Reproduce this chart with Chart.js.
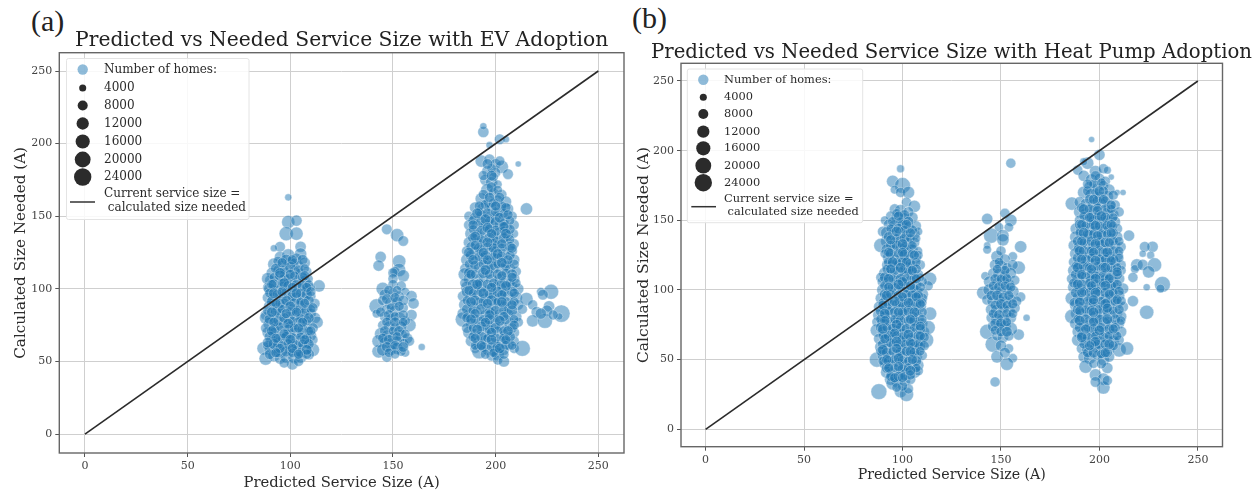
<!DOCTYPE html>
<html>
<head>
<meta charset="utf-8">
<title>Predicted vs Needed Service Size</title>
<script src="https://cdn.jsdelivr.net/npm/chart.js@4"></script>
<style>
  body { margin: 0; background: #fff; width: 1257px; height: 492px; overflow: hidden; position: relative; }
  canvas { position: absolute; top: 0; filter: blur(0.45px); }
  .tag { position: absolute; font: 30px/1 "Liberation Serif", serif; color: #222; }
</style>
</head>
<body>
<div class="tag" style="left:31px;top:6px">(a)</div>
<div class="tag" style="left:632px;top:3px">(b)</div>
<canvas id="evChart" width="630" height="492" style="left:0"></canvas>
<canvas id="hpChart" width="643" height="492" style="left:630px"></canvas>
<script>
// tick labels and legend
const tickValues = [0, 50, 100, 150, 200, 250];
const legendHomes = [4000, 8000, 12000, 16000, 20000, 24000];
const diagonal = [0, 250];

// each point: [predicted size (A), needed size (A), homes in thousands]
const evAt100 = [
  [99,163,4],[99,146,14],[103,147,10],[98,138,16],[103,138,14],[95,129,9],[92,128,4],[105,129,10],[105,124,12],
  [95,122,10],[99,123,14],[103,121,9],
  [92,117,12],[96,116,9],[100,118,12],[104,116,8],[107,118,10],
  [91,111,10],[94,113,8],[98,110,14],[102,112,10],[105,110,12],[108,112,8],
  [90,106,8],[93,105,12],[97,107,9],[100,104,12],[103,106,9],[107,105,12],[109,107,6],
  [89,107,12],[89,101,8],[114,102,12],
  [90,100,12],[94,99,9],[97,101,12],[101,98,10],[104,100,14],[108,99,9],[110,101,6],
  [89,94,9],[92,93,14],[96,95,8],[99,92,12],[103,94,10],[106,93,12],[110,95,8],
  [90,88,12],[94,87,10],[97,89,14],[101,86,9],[105,88,12],[108,87,10],[112,90,8],
  [88,82,9],[92,81,12],[95,83,9],[99,80,14],[102,82,10],[106,81,12],[110,83,9],
  [88,80,12],[112,80,10],[113,77,12],
  [90,76,14],[93,75,9],[97,77,12],[100,74,10],[104,76,14],[108,75,10],[111,73,9],
  [89,70,10],[92,69,12],[96,71,9],[99,68,14],[103,70,9],[106,69,12],[110,68,10],
  [91,64,12],[94,63,10],[97,65,14],[101,62,9],[105,64,12],[108,63,9],[111,65,8],
  [87,59,14],[90,58,10],[93,60,12],[96,57,9],[100,59,14],[103,57,10],[107,59,14],[111,58,14],
  [88,52,14],[92,54,12],[95,52,10],[98,53,12],[102,53,14],[105,53,12],[109,55,10],
  [101,48,10],[97,49,8],[104,50,8]
];
const evFill100 = [
  [94,119,8],[98,120,10],[102,118,7],[106,120,9],
  [93,114,9],[97,113,7],[100,115,10],[104,113,8],[107,114,7],
  [92,108,7],[95,109,10],[99,107,8],[102,109,7],[106,108,9],
  [92,103,10],[96,104,7],[99,102,9],[103,103,8],[106,102,10],[109,103,7],
  [90,97,8],[94,96,10],[98,98,7],[101,95,9],[105,97,8],[108,96,10],
  [91,91,10],[95,90,8],[98,92,9],[102,90,10],[105,91,7],[109,92,9],
  [89,85,8],[93,84,10],[96,86,7],[100,84,9],[104,85,10],[107,84,8],[110,86,7],
  [90,79,10],[94,78,8],[97,80,9],[101,78,7],[105,79,10],[108,78,8],
  [88,73,8],[92,72,10],[95,74,7],[99,72,9],[102,73,8],[106,72,10],[109,71,7],
  [90,67,10],[94,66,8],[98,67,9],[101,66,10],[105,67,7],[108,66,9],
  [89,61,8],[92,62,10],[96,61,7],[99,62,9],[103,61,10],[106,62,8],[109,62,9],
  [90,55,9],[94,56,8],[98,57,10],[101,56,7],[105,56,9],[108,55,8]
];
const evGap100 = [
  [96,118,8],[101,120,8],[95,111,9],[100,110,8],[107,109,8],[91,103,8],[97,104,9],[101,101,8],[108,101,8],
  [92,97,9],[96,98,8],[103,97,9],[110,98,8],[93,90,8],[100,88,9],[107,90,8],[111,87,8],[91,84,9],[98,83,8],
  [103,84,8],[109,80,9],[92,77,8],[99,76,9],[106,77,8],[91,71,9],[97,69,8],[104,73,8],[110,71,8],
  [93,66,8],[100,65,9],[107,65,8],[89,63,9],[95,59,8],[101,59,8],[108,58,9],[93,56,8],[104,55,8]
];
const evAt150 = [
  [147,141,9],[152,137,14],[155,133,9],[144,122,10],[143,116,10],[153,119,14],[153,113,14],[151,112,8],
  [155,109,12],[150,111,8],[150,107,8],[150,103,8],[154,102,8],[145,100,14],[156,98,6],[159,95,10],
  [160,90,10],[142,88,18],[142,83,6],[159,82,10],[158,75,14],[164,60,4],[143,57,14],[147,53,8],[156,56,6],
  [146,96,10],[150,97,9],[153,95,8],[145,92,8],[149,90,12],[152,91,9],[147,86,8],[151,85,10],[155,87,8],
  [146,81,9],[149,79,10],[153,80,12],[156,78,8],[145,75,8],[148,74,10],[151,73,9],[154,74,10],
  [144,69,12],[147,68,9],[150,67,10],[154,68,12],[157,66,9],[143,64,14],[146,63,10],[149,62,12],
  [152,64,9],[155,62,10],[158,64,8],[145,58,12],[149,58,9],[152,59,12],[154,57,8]
];
const evFill150 = [
  [148,99,8],[152,99,7],[147,93,9],[151,94,8],[155,92,9],[149,87,7],[153,88,8],[144,84,8],[148,82,9],
  [151,81,7],[155,82,8],[147,77,8],[151,77,9],[155,77,7],[146,71,9],[150,71,7],[153,71,9],[145,66,8],
  [148,65,9],[152,67,8],[156,69,7],[147,60,9],[151,61,8],[155,60,9],[148,56,7],[151,55,7]
];
const evAt200 = [
  [194,208,10],[194,212,4],[202,203,9],[205,203,4],[197,199,4],[211,186,3],
  [193,188,12],[197,189,10],[200,186,9],[203,184,14],[196,181,10],[200,180,8],[206,179,9],
  [195,175,10],[198,173,12],[201,172,6],[196,168,14],[199,166,9],[203,165,8],
  [193,162,12],[197,160,12],[201,161,9],[205,160,10],
  [190,156,10],[194,155,14],[198,156,9],[202,154,12],[206,155,10],[215,155,12],
  [187,150,8],[190,149,10],[193,151,9],[197,149,12],[200,150,10],[204,148,12],[208,150,8],
  [187,144,9],[191,143,12],[195,145,8],[198,143,14],[202,144,9],[205,142,12],[209,144,8],
  [188,138,12],[191,137,9],[195,139,12],[199,136,9],[202,138,14],[206,137,9],[209,138,6],
  [187,132,10],[191,131,12],[194,133,8],[198,131,12],[201,130,9],[205,132,12],[209,131,8],
  [186,126,9],[190,125,12],[193,127,9],[197,124,14],[200,126,9],[204,125,12],[208,126,9],
  [186,120,12],[190,119,8],[194,121,12],[197,118,10],[201,120,14],[205,118,9],[209,120,10],
  [185,114,8],[188,113,12],[192,115,10],[196,112,12],[199,114,9],[203,113,14],[207,114,9],[210,112,8],
  [185,110,14],[187,107,10],[191,106,12],[194,108,9],[198,106,12],[202,107,10],[205,105,12],[209,107,10],
  [186,101,12],[190,100,9],[193,102,12],[197,99,14],[200,101,10],[204,100,12],[208,102,9],[211,100,10],
  [184,95,9],[188,94,12],[191,96,10],[195,93,12],[199,95,9],[202,93,14],[206,95,10],[210,94,12],
  [185,89,12],[189,88,9],[192,90,12],[196,87,10],[200,89,14],[204,88,9],[207,87,12],[211,89,9],
  [184,83,10],[187,82,12],[191,84,9],[195,81,14],[198,83,10],[202,82,12],[206,83,9],[210,81,10],
  [184,79,18],[188,76,10],[192,77,12],[196,75,9],[199,76,12],[203,74,10],[207,76,12],[211,77,8],
  [187,70,12],[190,69,9],[194,71,14],[197,68,10],[201,70,12],[205,68,14],[209,70,9],
  [188,64,10],[192,63,14],[195,65,9],[199,62,12],[203,64,10],[206,62,12],[209,64,8],
  [190,59,8],[192,57,18],[196,58,10],[200,57,12],[204,58,9],[209,59,8],[213,59,20],
  [198,54,9],[201,55,14],[201,51,8],[204,50,10]
];
const evFill200 = [
  [198,183,7],[194,178,8],[199,177,7],[198,170,9],[194,165,8],[201,168,7],
  [195,158,8],[199,159,9],[203,157,8],[192,153,7],[196,152,9],[200,153,8],[204,152,7],
  [189,147,8],[193,146,10],[197,147,7],[200,146,9],[204,145,8],[207,147,7],
  [189,141,7],[193,140,9],[197,141,8],[200,140,10],[204,140,7],[207,141,8],
  [189,135,9],[193,134,7],[197,135,10],[200,133,8],[204,135,9],[207,134,7],
  [188,129,8],[192,128,10],[196,129,7],[199,128,9],[203,128,8],[207,129,9],
  [188,123,10],[192,122,8],[195,123,9],[199,122,7],[203,122,10],[207,123,8],
  [187,117,7],[190,116,9],[194,117,8],[198,116,10],[201,117,7],[205,116,9],[209,117,8],
  [187,111,9],[190,110,7],[194,111,10],[197,110,8],[201,110,9],[205,111,7],[208,110,9],
  [185,104,8],[189,103,10],[192,104,7],[196,103,9],[199,104,8],[203,103,10],[207,104,8],[210,104,7],
  [186,98,10],[189,97,7],[193,98,9],[197,96,8],[201,98,10],[204,97,7],[208,98,9],
  [186,92,7],[190,92,9],[194,91,8],[198,92,10],[201,91,7],[205,91,9],[209,91,8],
  [186,86,9],[189,85,8],[193,86,10],[197,85,7],[200,85,9],[204,85,8],[208,85,10],
  [186,80,8],[190,79,9],[194,79,7],[197,79,10],[201,79,8],[205,79,9],[209,79,7],
  [186,73,9],[189,73,7],[193,74,9],[197,72,8],[200,73,10],[204,71,8],[208,73,9],
  [189,67,8],[193,67,9],[196,66,7],[200,66,9],[204,66,8],[207,67,9],
  [190,61,7],[194,60,9],[198,60,8],[201,60,10],[205,61,8],[208,61,7],
  [195,55,8],[199,56,7],[204,55,8]
];
const evGap200 = [
  [196,186,9],[202,188,8],[198,178,9],[197,163,8],[202,163,8],[192,157,8],[200,157,8],[205,156,8],
  [191,152,9],[195,148,9],[202,149,9],[206,151,8],[189,144,8],[196,142,9],[204,143,8],[190,136,9],
  [198,138,8],[205,138,9],[190,130,8],[196,132,9],[203,131,8],[208,128,8],[187,125,9],[194,125,8],
  [201,124,9],[206,120,8],[189,120,9],[196,120,8],[203,118,9],[188,110,8],[195,113,9],[203,109,8],
  [208,108,8],[191,103,9],[198,101,8],[205,102,9],[187,99,8],[194,97,9],[203,96,8],[209,97,8],
  [188,91,9],[196,90,8],[203,91,9],[208,89,8],[190,83,8],[197,82,9],[204,81,8],[188,79,9],[195,77,8],
  [202,78,9],[209,75,8],[191,72,9],[198,70,8],[206,71,9],[190,66,8],[198,65,9],[205,65,8],[193,61,8],[202,59,9]
];
const evTail = [
  [227,98,18],[222,98,6],[223,96,9],[215,93,14],[218,89,8],[220,84,10],[226,88,10],[225,85,10],
  [232,83,24],[231,81,4],[218,78,12],[224,78,18],[222,83,10],[228,82,8],[213,86,8]
];

const hpAt100 = [
  [99,187,5],[95,178,12],[100,175,20],[96,172,6],[99,170,8],[103,170,12],[102,163,8],[106,160,12],
  [96,158,9],[99,157,12],[103,156,9],[94,153,8],[97,152,10],[101,151,12],[105,152,10],[91,150,6],
  [93,147,9],[96,146,12],[100,147,9],[103,145,10],[107,146,8],[90,142,9],
  [92,141,12],[95,140,9],[99,141,12],[102,139,9],[106,140,10],[108,142,6],
  [92,135,12],[96,134,9],[99,135,10],[103,133,14],[106,134,9],
  [89,132,16],[92,129,10],[95,128,12],[99,130,9],[102,128,12],[105,129,10],[108,128,6],
  [93,123,12],[96,122,9],[100,124,14],[103,122,10],[107,123,8],
  [92,118,8],[95,117,14],[98,118,9],[102,116,12],[105,117,10],[109,118,8],
  [91,112,12],[94,111,9],[98,113,12],[101,110,10],[105,112,12],[108,111,9],
  [89,109,8],[114,108,14],[113,103,8],
  [90,106,10],[93,105,14],[97,107,9],[100,104,12],[104,106,12],[107,104,9],[110,106,8],
  [90,100,12],[93,99,9],[97,101,12],[100,98,14],[104,100,10],[107,99,12],[110,97,12],
  [89,94,10],[92,93,12],[96,95,10],[99,92,12],[103,94,9],[106,93,14],[110,94,9],
  [88,88,9],[91,87,14],[95,89,9],[98,86,12],[102,88,12],[105,87,10],[109,88,12],
  [88,82,12],[91,81,9],[94,83,12],[98,80,10],[101,82,14],[105,81,9],[108,80,12],[114,83,14],
  [87,77,8],[90,76,12],[94,75,9],[97,77,12],[100,74,10],[104,76,12],[107,75,9],[110,76,10],
  [87,71,14],[90,70,10],[93,69,14],[97,71,9],[100,68,12],[104,70,10],[107,69,12],[111,70,9],[113,73,16],
  [88,65,9],[92,64,12],[95,66,10],[99,63,14],[102,65,9],[106,64,12],[109,63,10],[112,64,18],
  [89,59,12],[92,58,9],[96,60,14],[99,57,10],[103,59,12],[106,58,14],[109,59,9],
  [87,50,18],[90,53,10],[93,52,12],[97,54,9],[100,52,12],[104,53,10],[107,52,12],[110,53,8],
  [91,47,10],[94,46,12],[98,48,9],[101,46,12],[105,47,9],[108,46,10],
  [92,41,12],[95,40,14],[99,42,9],[102,40,12],[106,41,12],[108,42,8],
  [94,36,12],[97,34,10],[101,35,12],[104,36,9],[95,33,14],
  [88,27,20],[99,27,12],[102,25,16],[103,29,8],[100,31,8]
];
const hpFill100 = [
  [97,155,7],[101,154,8],[95,149,8],[99,149,7],[103,149,9],
  [94,144,7],[98,144,9],[101,143,7],[105,143,8],
  [93,138,9],[97,137,7],[101,137,9],[104,137,7],[107,137,6],
  [94,132,8],[97,132,9],[101,131,8],[105,132,7],
  [91,126,7],[94,126,9],[98,126,8],[101,125,10],[105,126,7],[108,125,7],
  [93,120,9],[97,120,7],[100,120,9],[104,119,8],[107,120,7],
  [92,115,7],[96,114,9],[100,114,7],[103,114,9],[107,115,8],
  [91,109,9],[95,108,7],[99,108,9],[102,108,8],[106,108,9],[109,109,6],
  [91,103,8],[95,102,9],[99,102,7],[102,102,10],[106,101,7],[109,102,8],
  [91,97,9],[94,97,8],[98,96,9],[102,97,7],[105,96,10],[108,96,8],
  [90,91,7],[93,90,10],[97,90,8],[100,90,9],[104,91,7],[107,90,10],[110,91,7],
  [89,85,10],[93,85,7],[96,84,9],[100,84,8],[103,85,10],[107,84,7],[110,84,8],
  [89,79,8],[92,78,10],[96,79,7],[99,78,9],[103,78,8],[106,78,10],[110,79,7],
  [89,73,9],[92,73,7],[95,72,10],[99,73,8],[102,72,9],[106,73,7],[109,72,9],
  [90,67,7],[93,67,9],[97,67,8],[100,66,10],[104,66,7],[108,67,9],[111,66,8],
  [90,61,9],[94,62,8],[98,61,9],[101,61,7],[105,61,10],[108,61,8],[111,60,8],
  [89,56,8],[92,55,9],[95,56,7],[99,55,10],[102,56,8],[106,55,9],[109,56,7],
  [90,49,7],[93,49,9],[96,50,8],[100,49,9],[103,49,7],[107,49,9],
  [92,44,9],[96,44,7],[100,43,9],[103,44,8],[107,44,7],
  [94,38,8],[98,38,9],[101,38,7],[104,39,8],[97,30,7]
];
const hpGap100 = [
  [98,153,8],[102,147,8],[97,142,9],[104,141,8],[94,136,8],[100,133,9],[93,127,8],[100,127,8],[106,125,8],
  [95,120,9],[102,120,8],[94,115,8],[99,116,9],[105,114,8],[93,108,9],[100,106,8],[107,108,8],[93,102,8],
  [98,104,9],[104,103,8],[92,96,9],[100,95,8],[107,95,8],[90,89,8],[96,92,9],[103,91,8],[109,90,8],
  [91,83,9],[98,84,8],[106,84,9],[91,78,8],[97,75,9],[104,79,8],[109,74,8],[90,72,9],[96,69,8],[103,68,9],
  [109,67,8],[91,65,8],[97,63,9],[104,62,8],[90,57,9],[97,58,8],[104,56,9],[92,50,8],[98,51,9],[105,50,8],
  [93,44,8],[98,45,8],[104,42,9],[96,37,8],[100,37,8]
];
const hpAt150 = [
  [155,191,8],[143,151,10],[152,155,8],[155,150,12],[149,145,7],[154,145,7],[145,139,18],[151,139,12],
  [151,136,12],[160,131,12],[143,132,4],[143,129,6],[148,124,12],[156,124,7],[159,116,14],[142,110,6],
  [141,98,14],[160,95,8],[163,80,4],[143,70,18],[146,61,20],[159,68,10],[156,51,7],[153,47,14],[147,34,8],
  [148,52,12],[154,58,7],[150,128,8],[152,122,9],
  [147,118,10],[150,117,12],[153,116,8],[156,118,9],[146,112,9],[149,111,12],[152,110,9],[155,112,10],
  [144,106,10],[148,105,9],[151,106,12],[154,104,10],[157,107,8],[144,100,12],[147,99,10],[150,98,12],
  [153,100,9],[156,99,12],[143,93,9],[146,92,12],[149,93,9],[152,91,14],[155,93,10],[158,92,8],
  [145,86,10],[148,85,14],[151,87,9],[154,85,12],[157,87,9],[145,80,8],[148,79,12],[151,78,14],[155,80,10],
  [146,74,10],[149,73,9],[152,74,12],[155,72,14],[148,67,8],[151,66,10],[154,67,8],[150,60,10],[152,55,9]
];
const hpFill150 = [
  [149,120,7],[152,114,8],[148,115,7],[147,108,8],[150,108,7],[153,108,8],[146,103,7],[149,102,9],[152,103,7],
  [155,102,8],[145,96,8],[148,96,9],[151,95,7],[154,96,8],[147,89,8],[150,90,9],[153,89,7],[156,90,8],
  [146,83,7],[149,82,9],[153,83,8],[156,83,7],[147,76,8],[150,76,9],[153,77,7],[147,71,7],[150,70,8],[153,70,9]
];
const hpAt200 = [
  [196,208,3],[200,197,10],[194,191,12],[192,192,5],[189,186,8],[198,185,12],[202,187,8],[204,186,5],[206,181,3],
  [209,170,3],[212,170,3],[192,182,10],[196,179,12],[200,180,9],[203,178,8],
  [195,174,10],[199,173,9],[202,175,8],[205,172,10],[192,170,12],[196,168,14],[200,167,9],[204,167,12],[207,168,8],
  [186,162,14],[190,163,10],[193,162,9],[197,161,12],[201,162,10],[205,160,12],[208,161,8],
  [190,156,12],[193,155,10],[197,156,14],[200,154,9],[204,155,12],[207,154,10],[210,156,8],
  [190,150,9],[194,149,12],[197,150,9],[201,148,14],[204,150,10],[208,149,9],
  [188,144,10],[191,143,12],[195,145,9],[198,142,12],[202,144,10],[205,143,12],[209,144,9],
  [188,138,12],[192,137,9],[195,139,12],[199,136,10],[202,138,14],[206,137,9],[209,138,10],[215,139,10],
  [187,132,10],[190,131,12],[194,133,9],[197,130,14],[201,132,10],[204,130,12],[208,132,9],[211,131,8],
  [188,126,12],[191,125,9],[195,127,12],[198,124,10],[202,126,12],[205,124,9],[209,125,12],
  [187,120,9],[190,119,12],[194,121,10],[197,118,14],[201,120,9],[204,119,12],[208,120,9],[211,118,8],
  [187,114,12],[190,113,9],[193,115,12],[197,112,10],[200,114,14],[204,112,10],[207,113,12],[211,114,8],
  [186,108,9],[189,107,12],[193,109,9],[196,106,14],[200,108,9],[203,107,12],[207,106,10],[210,108,10],
  [187,102,12],[190,101,10],[194,103,12],[197,100,9],[201,102,12],[205,100,14],[208,102,9],[212,101,10],
  [186,94,14],[189,95,9],[192,96,12],[196,94,10],[199,96,14],[203,94,9],[206,95,12],[210,96,10],
  [188,89,12],[191,88,9],[195,90,12],[198,87,14],[202,89,9],[205,88,12],[209,90,10],[212,88,9],
  [188,83,9],[186,81,16],[191,82,14],[194,84,9],[198,81,12],[201,83,10],[205,82,14],[209,83,9],[211,81,10],
  [188,76,12],[192,75,10],[195,77,12],[199,74,9],[202,76,14],[206,75,10],[210,76,9],
  [189,70,10],[192,69,14],[196,71,9],[199,68,12],[203,70,10],[207,68,12],[211,70,10],
  [189,64,12],[193,63,9],[197,65,12],[200,62,14],[204,64,9],[207,63,12],[210,64,8],
  [191,58,9],[194,57,12],[198,59,10],[201,56,12],[205,58,10],[210,57,16],[214,58,14],
  [192,52,10],[195,51,12],[199,53,9],[202,50,12],[205,52,9],
  [193,45,14],[204,44,10],[198,39,12],[202,36,12],[202,30,14],[198,34,9],[204,35,8]
];
const hpFill200 = [
  [197,176,7],[201,177,7],[194,171,8],[198,170,7],[202,171,8],[195,165,8],[199,164,9],[203,164,7],
  [191,159,8],[195,158,9],[199,159,7],[203,158,9],[206,158,7],
  [192,153,7],[196,152,9],[199,152,8],[203,152,9],[207,152,7],
  [190,147,9],[193,146,7],[197,147,9],[200,146,8],[204,146,9],[207,146,7],
  [190,141,7],[194,140,9],[197,140,8],[201,140,9],[204,140,7],[207,141,8],
  [189,135,9],[192,134,7],[196,135,9],[200,134,8],[203,134,9],[207,135,8],[210,135,7],
  [189,129,7],[192,128,9],[196,128,8],[200,128,9],[203,127,7],[207,128,9],[210,128,7],
  [189,123,9],[193,122,8],[196,123,7],[200,122,9],[203,122,8],[207,122,9],[210,123,7],
  [188,117,7],[192,117,9],[195,116,8],[199,117,7],[202,116,9],[206,116,8],[209,116,7],
  [188,111,9],[191,110,7],[195,110,9],[198,110,8],[202,110,9],[205,109,7],[209,111,9],
  [187,105,8],[191,104,9],[195,105,7],[198,104,9],[202,105,8],[206,103,9],[209,104,8],
  [188,98,9],[192,99,7],[195,98,9],[199,99,8],[203,98,9],[207,98,7],[210,99,8],
  [187,91,7],[190,92,9],[194,92,8],[197,91,9],[201,92,7],[204,91,9],[208,92,8],[211,92,8],
  [189,86,9],[193,86,7],[196,85,9],[200,86,8],[204,85,9],[207,85,7],[210,86,8],
  [189,79,7],[193,79,9],[197,78,8],[200,79,9],[204,78,7],[208,79,9],[211,78,7],
  [190,73,9],[194,73,7],[197,72,9],[201,73,8],[205,72,9],[208,73,8],
  [191,67,8],[194,66,9],[198,67,7],[202,66,9],[205,67,8],[209,67,7],
  [192,61,7],[196,61,9],[199,61,8],[203,61,9],[207,60,8],
  [194,55,8],[197,55,9],[201,54,7],[204,55,8],[197,47,7],[201,47,8]
];
const hpGap200 = [
  [198,182,8],[194,176,8],[200,171,9],[197,165,8],[202,165,8],[192,158,9],[199,157,8],[206,161,8],[195,152,8],
  [201,153,9],[206,147,8],[191,147,8],[198,146,9],[192,141,9],[199,139,8],[206,141,8],[191,135,8],[198,133,9],
  [205,134,8],[190,128,9],[197,127,8],[204,127,9],[191,122,8],[198,121,9],[206,121,8],[189,116,9],[196,115,8],
  [203,116,9],[209,113,8],[191,111,8],[198,108,9],[205,108,8],[189,104,9],[196,103,8],[203,103,9],[191,98,8],
  [198,98,9],[205,97,8],[190,91,9],[197,93,8],[203,90,9],[209,93,8],[190,85,8],[197,84,9],[204,87,8],[190,78,9],
  [197,77,8],[204,79,9],[193,72,8],[200,71,9],[207,72,8],[191,66,9],[198,63,8],[205,61,9],[195,60,8],[203,55,8]
];
const hpTail = [
  [227,131,10],[223,131,9],[226,125,5],[222,126,4],[219,118,12],[218,115,6],[222,118,10],[228,118,16],
  [225,113,12],[217,109,8],[224,102,4],[232,104,20],[231,101,6],[217,92,10],[224,84,16]
];

const homesRadius = (thousands) => Math.sqrt(thousands * 1000) * 0.056;
const toPoints = (rows) => rows.map((p) => ({ x: p[0], y: p[1], h: p[2] }));

// seaborn-ish legend + the two spines chart.js does not draw
const paperPlugin = {
  id: "paper",
  afterDraw(chart, args, o) {
    const ctx = chart.ctx;
    const a = chart.chartArea;
    ctx.save();
    ctx.strokeStyle = "#666";
    ctx.lineWidth = 1.4;
    ctx.strokeRect(a.left, a.top, a.right - a.left, a.bottom - a.top);

    ctx.beginPath();
    ctx.roundRect(o.left, o.top, o.right - o.left, o.bottom - o.top, 2);
    ctx.fillStyle = "rgba(255,255,255,0.85)";
    ctx.fill();
    ctx.strokeStyle = "#e4e4e4";
    ctx.lineWidth = 1;
    ctx.stroke();

    ctx.font = o.fontSize + 'px "DejaVu Serif"';
    ctx.textBaseline = "middle";
    ctx.fillStyle = "#2b2b2b";
    ctx.fillText("Number of homes:", o.textX, o.rows[0]);
    ctx.fillStyle = "rgba(31,119,180,0.5)";
    ctx.beginPath();
    ctx.arc(o.markX, o.rows[0], 5.2, 0, Math.PI * 2);
    ctx.fill();
    legendHomes.forEach((homes, i) => {
      ctx.fillStyle = "#2b2b2b";
      ctx.fillText(String(homes), o.textX, o.rows[i + 1]);
      ctx.beginPath();
      ctx.arc(o.markX, o.rows[i + 1], homesRadius(homes / 1000), 0, Math.PI * 2);
      ctx.fill();
    });
    ctx.fillText("Current service size =", o.textX, o.line1);
    ctx.fillText(" calculated size needed", o.textX, o.line2);
    ctx.strokeStyle = "#333";
    ctx.lineWidth = 1.5;
    ctx.beginPath();
    ctx.moveTo(o.lineX[0], o.lineY);
    ctx.lineTo(o.lineX[1], o.lineY);
    ctx.stroke();
    ctx.restore();
  },
};

function axis(titleText, titleSize, fixedSize, titlePadding, range) {
  return {
    min: range[0],
    max: range[1],
    afterBuildTicks: (scale) => {
      scale.ticks = tickValues.map((v) => ({ value: v }));
    },
    afterFit: (scale) => {
      if (scale.isHorizontal()) scale.height = fixedSize;
      else scale.width = fixedSize;
    },
    grid: { color: "#cfcfcf", lineWidth: 1, tickColor: "#555", tickLength: 4 },
    border: { display: false },
    ticks: {
      color: "#444",
      padding: 3,
      maxRotation: 0,
      font: { family: "DejaVu Serif", size: 11 },
    },
    title: {
      display: true,
      text: titleText,
      color: "#2b2b2b",
      padding: titlePadding,
      font: { family: "DejaVu Serif", size: titleSize },
    },
  };
}

function drawPanel(id, p) {
  const scales = {
    x: axis("Predicted Service Size (A)", p.xTitleSize, p.xAxisHeight, { top: 0, bottom: p.xTitleGap }, [-12.5, 262.5]),
    y: axis("Calculated Size Needed (A)", p.yTitleSize, p.yAxisWidth, { top: p.yTitleGap, bottom: 0 }, p.yRange),
  };
  // empty right axis: keeps the long title centred on the plot while it overhangs it
  if (p.gutter) {
    scales.gutter = {
      axis: "y",
      position: "right",
      grid: { display: false },
      border: { display: false },
      ticks: { display: false },
      afterFit: (scale) => {
        scale.width = p.gutter;
      },
    };
  }
  new Chart(document.getElementById(id), {
    type: "scatter",
    data: {
      datasets: [
        {
          type: "line",
          data: diagonal.map((v) => ({ x: v, y: v })),
          borderColor: "#2b2b2b",
          borderWidth: 1.6,
          pointRadius: 0,
        },
        {
          data: toPoints(p.points),
          backgroundColor: "rgba(31,119,180,0.5)",
          borderColor: "rgba(255,255,255,0.4)",
          borderWidth: 0.8,
          pointRadius: (c) => homesRadius(c.raw.h),
        },
      ],
    },
    options: {
      responsive: false,
      animation: false,
      layout: { autoPadding: false, padding: { right: p.padRight } },
      scales: scales,
      plugins: {
        legend: { display: false },
        tooltip: { enabled: false },
        title: {
          display: true,
          text: p.title,
          fullSize: p.titleFull,
          color: "#222",
          font: { family: "DejaVu Serif", size: p.titleSize, weight: "normal", lineHeight: 1 },
          padding: p.titlePadding,
        },
        paper: p.legend,
      },
    },
    plugins: [paperPlugin],
  });
}

drawPanel("evChart", {
  title: "Predicted vs Needed Service Size with EV Adoption",
  points: [].concat(evAt100, evFill100, evGap100, evAt150, evFill150, evAt200, evFill200, evGap200, evTail),
  padRight: 6,
  xAxisHeight: 39,
  yAxisWidth: 59.3,
  xTitleGap: 0,
  yTitleGap: 11.5,
  xTitleSize: 14.8,
  yTitleSize: 15.2,
  titleSize: 20.3,
  titleFull: false,
  yRange: [-13, 262.6],
  titlePadding: { top: 31, bottom: 1.4 },
  legend: {
    left: 66.5, right: 249, top: 58.5, bottom: 219.5,
    rows: [69.5, 88, 105.5, 123.5, 141.5, 159.5, 177],
    line1: 194, line2: 207.5, lineY: 202, lineX: [70, 95],
    markX: 82.7, textX: 104, fontSize: 12,
  },
});

drawPanel("hpChart", {
  title: "Predicted vs Needed Service Size with Heat Pump Adoption",
  points: [].concat(hpAt100, hpFill100, hpGap100, hpAt150, hpFill150, hpAt200, hpFill200, hpGap200, hpTail),
  padRight: 0,
  gutter: 50.5,
  xAxisHeight: 45.3,
  yAxisWidth: 51,
  xTitleGap: 8.5,
  yTitleGap: 4.7,
  xTitleSize: 14.2,
  yTitleSize: 15.5,
  titleSize: 19.7,
  titleFull: true,
  yRange: [-12.5, 262.7],
  titlePadding: { top: 43, bottom: 0.6 },
  legend: {
    left: 57.3, right: 232.7, top: 69, bottom: 222.7,
    rows: [79.7, 97.3, 114, 131.7, 148.3, 165.7, 182.7],
    line1: 199, line2: 212, lineY: 206.7, lineX: [61.3, 86],
    markX: 73.3, textX: 94, fontSize: 11.4,
  },
});
</script>
</body>
</html>
